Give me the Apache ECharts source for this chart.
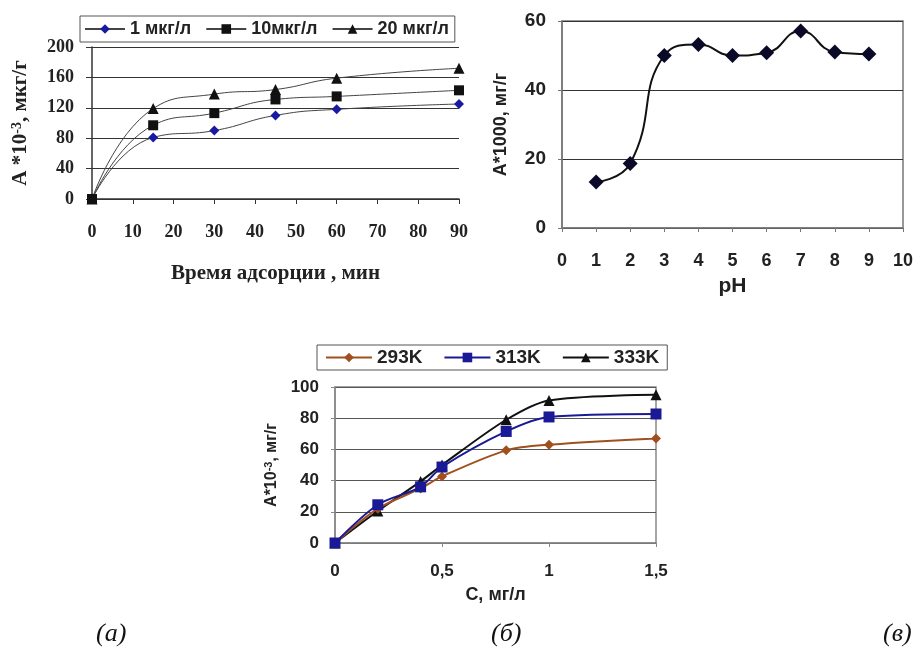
<!DOCTYPE html>
<html><head><meta charset="utf-8">
<script src="https://cdn.jsdelivr.net/npm/echarts@6/dist/echarts.min.js"></script>
<style>html,body{margin:0;padding:0;background:#fff}#c{width:919px;height:659px}</style>
</head><body><div id="c"></div>
<script>
// Chart (а): adsorption vs time
const timeX = [0, 15, 30, 45, 60, 90];
const a1 = [0, 81, 90, 110, 118, 125];
const a10 = [0, 97, 113, 131, 135, 143];
const a20 = [0, 119, 138, 144, 159, 172];
const namesA = ['1 мкг/л', '10мкг/л', '20 мкг/л'];
// Chart (в): adsorption vs pH
const phX = [1, 2, 3, 4, 5, 6, 7, 8, 9];
const phY = [13.3, 18.7, 50, 53.2, 50, 50.8, 57.1, 51, 50.4];
// Chart (б): isotherms
const concX = [0, 0.2, 0.4, 0.5, 0.8, 1, 1.5];
const k293 = [0, 22, 35, 42.7, 59.4, 63, 67];
const k313 = [0, 24.5, 36, 48.7, 71.5, 80.8, 82.7];
const k333 = [0, 20.5, 39.5, 50, 79, 91.4, 95];
const namesC = ['293K', '313K', '333K'];
const panelLabels = ['(а)', '(б)', '(в)'];

const zip = (xs, ys) => xs.map((x, i) => [x, ys[i]]);
const serif = 'Liberation Serif';
const sans = 'Liberation Sans';

const chart = echarts.init(document.getElementById('c'));
chart.setOption({
  animation: false,
  backgroundColor: '#fff',
  grid: [
    {left: 92, top: 47, width: 367, height: 152},
    {left: 562, top: 21, width: 341, height: 207, show: true, borderColor: '#777', borderWidth: 1.5, backgroundColor: 'transparent'},
    {left: 335, top: 387, width: 321, height: 156, show: true, borderColor: '#888', borderWidth: 1.5, backgroundColor: 'transparent'}
  ],
  legend: [
    {data: namesA, left: 80, top: 16, padding: [4, 6, 4, 4], itemGap: 14, itemWidth: 40, itemHeight: 12,
     borderColor: '#555', borderWidth: 1, textStyle: {fontFamily: sans, fontWeight: 'bold', fontSize: 18, color: '#222'}},
    {data: namesC, left: 317, top: 345, padding: [3, 8, 3, 8], itemGap: 21, itemWidth: 46, itemHeight: 12,
     borderColor: '#555', borderWidth: 1, textStyle: {fontFamily: sans, fontWeight: 'bold', fontSize: 19, color: '#222'}}
  ],
  xAxis: [
    {gridIndex: 0, type: 'value', min: 0, max: 90, interval: 10,
     name: 'Время адсорции , мин', nameLocation: 'middle', nameGap: 64,
     nameTextStyle: {fontFamily: serif, fontWeight: 'bold', fontSize: 21, color: '#222'},
     axisLine: {lineStyle: {color: '#333', width: 1.5}}, axisTick: {show: true, length: 5, lineStyle: {color: '#333'}},
     axisLabel: {margin: 24, fontFamily: serif, fontWeight: 'bold', fontSize: 18, color: '#222'}, splitLine: {show: false}},
    {gridIndex: 1, type: 'value', min: 0, max: 10, interval: 1,
     name: 'pH', nameLocation: 'middle', nameGap: 48,
     nameTextStyle: {fontFamily: sans, fontWeight: 'bold', fontSize: 21, color: '#222'},
     axisLine: {lineStyle: {color: '#777', width: 1.5}}, axisTick: {show: true, length: 4, lineStyle: {color: '#777'}},
     axisLabel: {margin: 24, fontFamily: sans, fontWeight: 'bold', fontSize: 18, color: '#222'}, splitLine: {show: false}},
    {gridIndex: 2, type: 'value', min: 0, max: 1.5, interval: 0.5,
     name: 'C, мг/л', nameLocation: 'middle', nameGap: 43,
     nameTextStyle: {fontFamily: sans, fontWeight: 'bold', fontSize: 18, color: '#222'},
     axisLine: {lineStyle: {color: '#888', width: 1.5}}, axisTick: {show: true, length: 4, lineStyle: {color: '#888'}},
     axisLabel: {margin: 20, fontFamily: sans, fontWeight: 'bold', fontSize: 17, color: '#222',
       formatter: v => String(v).replace('.', ',')}, splitLine: {show: false}}
  ],
  yAxis: [
    {gridIndex: 0, type: 'value', min: 0, max: 200, interval: 40,
     name: '{a|A *10}{s|-3}{a|, мкг/г}', nameLocation: 'middle', nameGap: 60, nameRotate: 90,
     nameTextStyle: {rich: {a: {fontFamily: serif, fontWeight: 'bold', fontSize: 21, color: '#222'},
                            s: {fontFamily: serif, fontWeight: 'bold', fontSize: 14, color: '#222', verticalAlign: 'top', padding: [0, 0, 8, 0]}}},
     axisLine: {show: true, lineStyle: {color: '#333', width: 1.5}}, axisTick: {show: true, length: 6, lineStyle: {color: '#333'}},
     axisLabel: {margin: 18, fontFamily: serif, fontWeight: 'bold', fontSize: 18, color: '#222'},
     splitLine: {show: true, lineStyle: {color: '#333', width: 1}}},
    {gridIndex: 1, type: 'value', min: 0, max: 60, interval: 20,
     name: 'A*1000, мг/г', nameLocation: 'middle', nameGap: 52, nameRotate: 90,
     nameTextStyle: {fontFamily: sans, fontWeight: 'bold', fontSize: 18, color: '#222'},
     axisLine: {show: true, lineStyle: {color: '#777', width: 1.5}}, axisTick: {show: true, length: 4, lineStyle: {color: '#777'}},
     axisLabel: {margin: 16, fontFamily: sans, fontWeight: 'bold', fontSize: 19, color: '#222'},
     splitLine: {show: true, lineStyle: {color: '#333', width: 1}}},
    {gridIndex: 2, type: 'value', min: 0, max: 100, interval: 20,
     name: '{a|A*10}{s|-3}{a|, мг/г}', nameLocation: 'middle', nameGap: 55, nameRotate: 90,
     nameTextStyle: {rich: {a: {fontFamily: sans, fontWeight: 'bold', fontSize: 16, color: '#222'},
                            s: {fontFamily: sans, fontWeight: 'bold', fontSize: 11, color: '#222', verticalAlign: 'top', padding: [0, 0, 6, 0]}}},
     axisLine: {show: true, lineStyle: {color: '#888', width: 1.5}}, axisTick: {show: true, length: 4, lineStyle: {color: '#888'}},
     axisLabel: {margin: 16, fontFamily: sans, fontWeight: 'bold', fontSize: 17, color: '#222'},
     splitLine: {show: true, lineStyle: {color: '#555', width: 1}}}
  ],
  series: [
    {name: namesA[2], type: 'line', xAxisIndex: 0, yAxisIndex: 0, data: zip(timeX, a20), smooth: 0.5,
     symbol: 'triangle', symbolSize: 11, itemStyle: {color: '#111'}, lineStyle: {color: '#444', width: 1}},
    {name: namesA[0], type: 'line', xAxisIndex: 0, yAxisIndex: 0, data: zip(timeX, a1), smooth: 0.5,
     symbol: 'diamond', symbolSize: 10, itemStyle: {color: '#1a1aa0'}, lineStyle: {color: '#444', width: 1}},
    {name: namesA[1], type: 'line', xAxisIndex: 0, yAxisIndex: 0, data: zip(timeX, a10), smooth: 0.5,
     symbol: 'rect', symbolSize: 10, itemStyle: {color: '#111'}, lineStyle: {color: '#444', width: 1}},
    {name: 'pH', type: 'line', xAxisIndex: 1, yAxisIndex: 1, data: zip(phX, phY), smooth: 0.5,
     symbol: 'diamond', symbolSize: 15, itemStyle: {color: '#0a0a28'}, lineStyle: {color: '#111', width: 2}},
    {name: namesC[2], type: 'line', xAxisIndex: 2, yAxisIndex: 2, data: zip(concX, k333), smooth: 0.3,
     symbol: 'triangle', symbolSize: 11, itemStyle: {color: '#111'}, lineStyle: {color: '#111', width: 2}},
    {name: namesC[0], type: 'line', xAxisIndex: 2, yAxisIndex: 2, data: zip(concX, k293), smooth: 0.3,
     symbol: 'diamond', symbolSize: 10, itemStyle: {color: '#a0501e'}, lineStyle: {color: '#a0501e', width: 2}},
    {name: namesC[1], type: 'line', xAxisIndex: 2, yAxisIndex: 2, data: zip(concX, k313), smooth: 0.3,
     symbol: 'rect', symbolSize: 11, itemStyle: {color: '#1a1a96'}, lineStyle: {color: '#1a1a96', width: 2}}
  ],
  graphic: [
    {type: 'text', left: 96, top: 621, style: {text: panelLabels[0], font: 'italic 26px "Liberation Serif"', fill: '#111'}},
    {type: 'text', left: 491, top: 621, style: {text: panelLabels[1], font: 'italic 26px "Liberation Serif"', fill: '#111'}},
    {type: 'text', left: 883, top: 621, style: {text: panelLabels[2], font: 'italic 26px "Liberation Serif"', fill: '#111'}}
  ]
});
</script></body></html>
